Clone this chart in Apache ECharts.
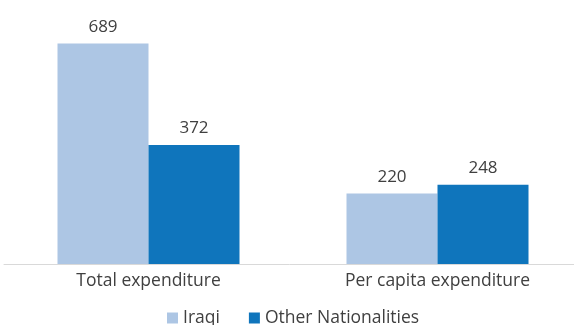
<!DOCTYPE html>
<html>
<head>
<meta charset="utf-8">
<script src="https://cdn.jsdelivr.net/npm/echarts@6/dist/echarts.min.js"></script>
<style>
  html, body { margin: 0; padding: 0; background: #fff; }
  #chart { width: 574px; height: 325px; }
</style>
</head>
<body>
<div id="chart"></div>
<script>
const categories = ['Total expenditure', 'Per capita expenditure']
const iraqi = [689, 220]
const otherNationalities = [372, 248]

const chart = echarts.init(document.getElementById('chart'))
const textColor = '#404040'
const fontFamily = '"Open Sans", sans-serif'

chart.setOption({
  animation: false,
  textStyle: { fontFamily: fontFamily },
  legend: {
    top: 309,
    left: 167,
    padding: 0,
    itemWidth: 11,
    itemHeight: 11,
    itemGap: 29,
    icon: 'rect',
    textStyle: { fontSize: 17.5, color: textColor, fontFamily: fontFamily },
    data: ['Iraqi', 'Other Nationalities']
  },
  grid: {
    top: 40,
    left: 4,
    right: -8,
    height: 224,
    outerBoundsMode: 'none',
    containLabel: false
  },
  xAxis: {
    type: 'category',
    data: categories,
    axisLine: { lineStyle: { color: '#d9d9d9', width: 1 } },
    axisTick: { show: false },
    axisLabel: { fontSize: 17.5, color: textColor, margin: 8, fontFamily: fontFamily }
  },
  yAxis: {
    type: 'value',
    min: 0,
    max: 700,
    show: false,
    splitLine: { show: false }
  },
  series: [{
    name: 'Iraqi',
    type: 'bar',
    data: iraqi,
    barWidth: 91,
    barGap: '0%',
    itemStyle: { color: '#adc6e4' },
    label: { show: true, position: 'top', distance: 8, fontSize: 17, color: textColor, fontFamily: fontFamily }
  }, {
    name: 'Other Nationalities',
    type: 'bar',
    data: otherNationalities,
    barWidth: 91,
    barGap: '0%',
    itemStyle: { color: '#0f75bc' },
    label: { show: true, position: 'top', distance: 8, fontSize: 17, color: textColor, fontFamily: fontFamily }
  }]
})
</script>
</body>
</html>
